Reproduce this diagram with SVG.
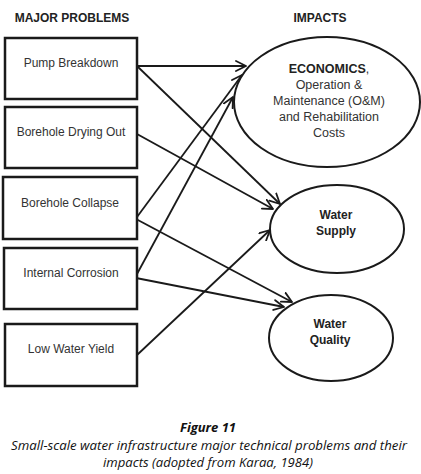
<svg xmlns="http://www.w3.org/2000/svg" width="421" height="474" viewBox="0 0 421 474">
<defs>
<marker id="arr" viewBox="0 0 12 12" refX="11" refY="6" markerWidth="12" markerHeight="12" markerUnits="userSpaceOnUse" orient="auto">
<path d="M1,1 L11,6 L1,11" fill="none" stroke="#1a1a1a" stroke-width="1.8" stroke-linecap="round" stroke-linejoin="round"/>
</marker>
<style>
.box{fill:#fff;stroke:#1a1a1a;stroke-width:2.5}
.ell{fill:#fff;stroke:#1a1a1a;stroke-width:2}
.t{font-family:"Liberation Sans",Arial,sans-serif;font-size:12px;fill:#333;text-anchor:middle}
.b{font-weight:bold;fill:#222}
.c{stroke:#1a1a1a;stroke-width:1.8;fill:none;marker-end:url(#arr)}
.cap{font-family:"Open Sans","Liberation Sans",sans-serif;font-style:italic;font-size:13px;fill:#111;text-anchor:middle}
</style>
</defs>
<rect width="421" height="474" fill="#fff"/>
<text class="t b" x="72" y="22">MAJOR PROBLEMS</text>
<text class="t b" x="320" y="22">IMPACTS</text>
<g id="connectors">
<line class="c" x1="137" y1="66" x2="246" y2="66"/>
<line class="c" x1="137" y1="66" x2="280" y2="204"/>
<line class="c" x1="137" y1="134" x2="273" y2="209"/>
<line class="c" x1="137" y1="217" x2="242" y2="75"/>
<line class="c" x1="136" y1="219" x2="292" y2="302"/>
<line class="c" x1="137" y1="274" x2="233" y2="97"/>
<line class="c" x1="136" y1="278" x2="284" y2="307"/>
<line class="c" x1="137" y1="355" x2="270" y2="230"/>
</g>
<g id="pump"><rect class="box" x="5" y="38" width="132" height="61"/><text class="t" x="71" y="67">Pump Breakdown</text></g>
<g id="drying"><rect class="box" x="5" y="107" width="132" height="61"/><text class="t" x="71" y="136">Borehole Drying Out</text></g>
<g id="collapse"><rect class="box" x="3" y="177" width="134" height="62"/><text class="t" x="70" y="207">Borehole Collapse</text></g>
<g id="corrosion"><rect class="box" x="4" y="248" width="133" height="61"/><text class="t" x="71" y="277">Internal Corrosion</text></g>
<g id="yield"><rect class="box" x="5" y="324" width="132" height="62"/><text class="t" x="71" y="353">Low Water Yield</text></g>
<g id="economics"><ellipse class="ell" cx="327" cy="102" rx="93" ry="65"/>
<text class="t" x="329" y="73" style="font-size:12.5px"><tspan class="b">ECONOMICS</tspan>,</text>
<text class="t" x="329" y="89" style="font-size:12.5px">Operation &amp;</text>
<text class="t" x="329" y="105" style="font-size:12.5px">Maintenance (O&amp;M)</text>
<text class="t" x="329" y="121" style="font-size:12.5px">and Rehabilitation</text>
<text class="t" x="329" y="137" style="font-size:12.5px">Costs</text>
</g>
<g id="supply"><ellipse class="ell" cx="337" cy="229" rx="67" ry="44"/>
<text class="t b" x="336" y="219">Water</text><text class="t b" x="336" y="235">Supply</text></g>
<g id="quality"><ellipse class="ell" cx="331" cy="338" rx="62" ry="43"/>
<text class="t b" x="330" y="328">Water</text><text class="t b" x="330" y="344">Quality</text></g>
<text class="cap" x="208" y="432" style="font-weight:bold" textLength="56" lengthAdjust="spacingAndGlyphs">Figure 11</text>
<text class="cap" x="209" y="450" textLength="396" lengthAdjust="spacingAndGlyphs">Small-scale water infrastructure major technical problems and their</text>
<text class="cap" x="208" y="467" textLength="210" lengthAdjust="spacingAndGlyphs">impacts (adopted from Karaa, 1984)</text>
</svg>
